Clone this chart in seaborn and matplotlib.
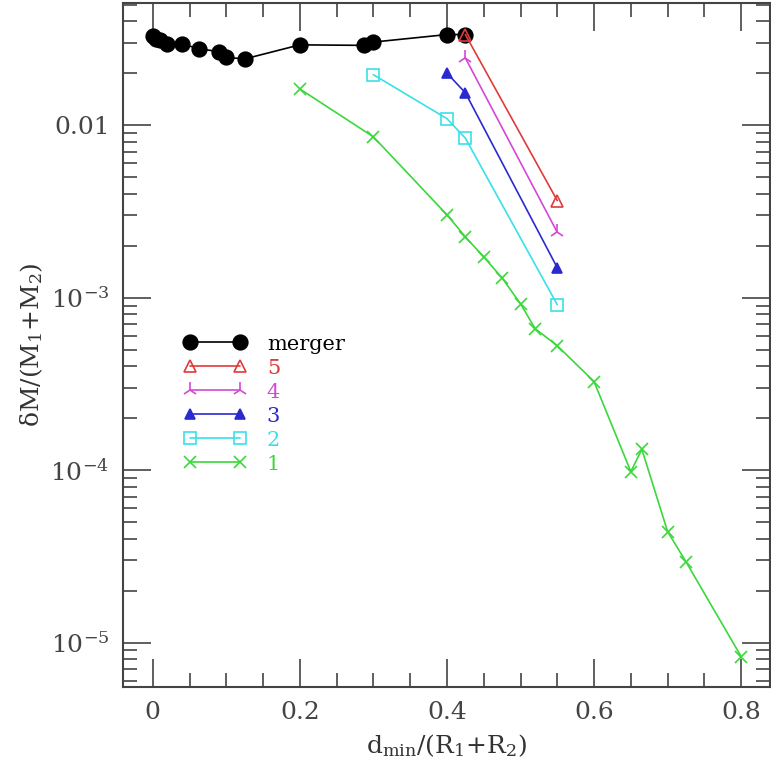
import numpy as np
import pandas as pd
import seaborn as sns
import matplotlib.pyplot as plt
from matplotlib.ticker import FixedLocator, MultipleLocator, LogLocator, NullFormatter

# data
merger_x = [0.0, 0.005, 0.01, 0.02, 0.04, 0.0625, 0.09, 0.1, 0.125, 0.2, 0.2875, 0.3, 0.4, 0.425]
merger_y = [0.0327, 0.0316, 0.031, 0.0297, 0.0296, 0.0277, 0.0267, 0.0247, 0.0242, 0.0292, 0.029, 0.0303, 0.0335, 0.0335]

s5_x = [0.425, 0.55]
s5_y = [0.0335, 3.65e-3]

s4_x = [0.425, 0.55]
s4_y = [0.0245, 2.39e-3]

s3_x = [0.4, 0.425, 0.55]
s3_y = [0.020, 0.0154, 1.49e-3]

s2_x = [0.3, 0.4, 0.425, 0.55]
s2_y = [0.0196, 0.0109, 8.4e-3, 9.1e-4]

s1_x = [0.2, 0.3, 0.4, 0.425, 0.45, 0.475, 0.5, 0.52, 0.55, 0.6, 0.65, 0.665, 0.7, 0.725, 0.8]
s1_y = [0.0162, 8.55e-3, 3.02e-3, 2.25e-3, 1.72e-3, 1.30e-3, 9.2e-4, 6.6e-4, 5.26e-4,
        3.26e-4, 9.8e-5, 1.32e-4, 4.4e-5, 2.94e-5, 8.3e-6]

labels = ["merger", "5", "4", "3", "2", "1"]
colors = ["black", "#e03a3a", "#d548d5", "#2a2ad0", "#38e0e8", "#3ad83a"]

sns.set_style("ticks")
plt.rcParams['font.family'] = ['DejaVu Serif']
plt.rcParams['mathtext.fontset'] = 'dejavuserif'

fig = plt.figure(figsize=(7.71, 7.68), dpi=100)
ax = fig.add_axes([0.160, 0.1055, 0.8385, 0.8905])

xs = [merger_x, s5_x, s4_x, s3_x, s2_x, s1_x]
ys = [merger_y, s5_y, s4_y, s3_y, s2_y, s1_y]
markers = ["o", "^", "2", "^", "s", "x"]
msizes = [10.5, 8, 11, 7, 8, 8]
mfaces = ["black", "none", "#d548d5", "#2a2ad0", "none", "#3ad83a"]

for x, y, lab, c, m, ms, mf in zip(xs, ys, labels, colors, markers, msizes, mfaces):
    df = pd.DataFrame({"x": x, "y": y})
    sns.lineplot(data=df, x="x", y="y", ax=ax, sort=False, estimator=None,
                 color=c, marker=m, markersize=ms, markerfacecolor=mf,
                 markeredgecolor=c, markeredgewidth=1.2, linewidth=1.2, label=lab)

ax.set_yscale("log")
ax.set_xlim(-0.040, 0.839)
ax.set_ylim(5.53e-6, 0.051)

ax.xaxis.set_major_locator(FixedLocator([0, 0.2, 0.4, 0.6, 0.8]))
ax.xaxis.set_minor_locator(MultipleLocator(0.05))
ax.set_xticklabels(["0", "0.2", "0.4", "0.6", "0.8"])
ax.yaxis.set_major_locator(FixedLocator([1e-5, 1e-4, 1e-3, 1e-2]))
ax.yaxis.set_minor_locator(LogLocator(base=10, subs=np.arange(2, 10)))
ax.yaxis.set_minor_formatter(NullFormatter())
ax.set_yticklabels([r"$10^{-5}$", r"$10^{-4}$", r"$10^{-3}$", "0.01"])

ax.tick_params(which="both", direction="in", top=True, right=True,
               colors="#444444", labelsize=18, pad=10)
ax.tick_params(which="major", length=20, width=1.2)
ax.tick_params(which="minor", length=10, width=1.2)
for sp in ax.spines.values():
    sp.set_color("#444444")
    sp.set_linewidth(1.5)

ax.set_xlabel(r"d$_{\rm min}$/(R$_1$+R$_2$)", fontsize=18, color="#333333", labelpad=6)
ax.set_ylabel("δM/(M$_1$+M$_2$)", fontsize=18, color="#333333", labelpad=4)

handles, labs = ax.get_legend_handles_labels()
ax.legend(handles, labs, loc="upper left", bbox_to_anchor=(0.093, 0.515),
          frameon=False, numpoints=2, fontsize=15, handlelength=3.0,
          handletextpad=1.0, labelspacing=0.24, borderpad=0, borderaxespad=0,
          labelcolor=colors)

fig.savefig("out.png", dpi=100)
